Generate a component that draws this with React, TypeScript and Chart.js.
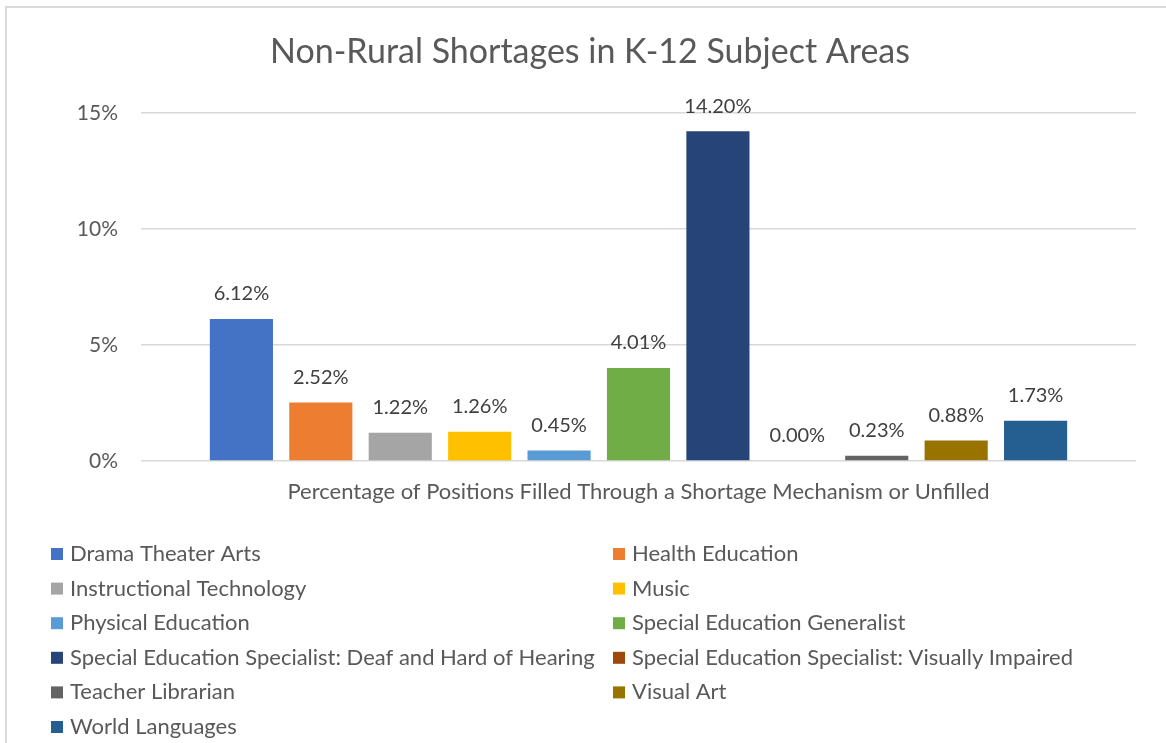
import React, { useEffect, useRef } from "react";
import { Chart, registerables } from "chart.js";

Chart.register(...registerables);

const titleText = "Non-Rural Shortages in K-12 Subject Areas";
const categories = ["Percentage of Positions Filled Through a Shortage Mechanism or Unfilled"];
const seriesNames = [
  "Drama Theater Arts",
  "Health Education",
  "Instructional Technology",
  "Music",
  "Physical Education",
  "Special Education Generalist",
  "Special Education Specialist: Deaf and Hard of Hearing",
  "Special Education Specialist: Visually Impaired",
  "Teacher Librarian",
  "Visual Art",
  "World Languages",
];
const seriesValues = [6.12, 2.52, 1.22, 1.26, 0.45, 4.01, 14.2, 0.0, 0.23, 0.88, 1.73];
const seriesColors = [
  "#4472C4",
  "#ED7D31",
  "#A5A5A5",
  "#FFC000",
  "#5B9BD5",
  "#70AD47",
  "#264478",
  "#9E480E",
  "#636363",
  "#997300",
  "#255E91",
];
const yMin = 0;
const yMax = 15;
const yStep = 5;

const FONT = "Lato, 'Open Sans', sans-serif";
const TEXT = "#595959";

const borderPlugin = {
  id: "frameBorder",
  beforeDraw(chart: any) {
    const ctx = chart.ctx;
    ctx.save();
    ctx.fillStyle = "#ffffff";
    ctx.fillRect(0, 0, chart.width, chart.height);
    ctx.strokeStyle = "#d9d9d9";
    ctx.lineWidth = 2;
    ctx.strokeRect(6, 7, chart.width + 20, chart.height + 20);
    ctx.restore();
  },
};

const dataLabelPlugin = {
  id: "barValueLabels",
  afterDatasetsDraw(chart: any) {
    const ctx = chart.ctx;
    ctx.save();
    ctx.font = `20px ${FONT}`;
    ctx.fillStyle = "#404040";
    ctx.textAlign = "center";
    ctx.textBaseline = "middle";
    chart.data.datasets.forEach((ds: any, i: number) => {
      const meta = chart.getDatasetMeta(i);
      meta.data.forEach((el: any, j: number) => {
        const v = ds.data[j] as number;
        ctx.fillText(v.toFixed(2) + "%", el.x, el.y - 25);
      });
    });
    ctx.restore();
  },
};

const legendPlugin = {
  id: "twoColumnLegend",
  afterDraw(chart: any) {
    const ctx = chart.ctx;
    ctx.save();
    ctx.font = `22px ${FONT}`;
    ctx.textBaseline = "middle";
    ctx.textAlign = "left";
    const colBox = [51, 613];
    const colText = [70, 632];
    const top = 554;
    const rowH = 34.6;
    const box = 12;
    chart.data.datasets.forEach((ds: any, i: number) => {
      const col = i % 2;
      const row = Math.floor(i / 2);
      const cy = top + row * rowH;
      ctx.fillStyle = ds.backgroundColor;
      ctx.fillRect(colBox[col], cy - box / 2, box, box);
      ctx.fillStyle = TEXT;
      ctx.fillText(ds.label, colText[col], cy);
    });
    ctx.restore();
  },
};

export default function App() {
  const ref = useRef<HTMLCanvasElement | null>(null);

  useEffect(() => {
    if (!ref.current) return;
    const chart = new Chart(ref.current, {
      type: "bar",
      data: {
        labels: categories,
        datasets: seriesNames.map((name, i) => ({
          label: name,
          data: [seriesValues[i]],
          backgroundColor: seriesColors[i],
          borderWidth: 0,
          categoryPercentage: 0.878,
          barPercentage: 0.795,
        })),
      },
      options: {
        responsive: false,
        animation: false,
        layout: { padding: { left: 44, right: 30, top: 0, bottom: 237 } },
        plugins: {
          legend: { display: false },
          tooltip: { enabled: false },
          title: {
            display: true,
            text: titleText,
            color: TEXT,
            font: { family: FONT, size: 34, weight: "normal" },
            padding: { top: 32, bottom: 40 },
          },
        },
        scales: {
          x: {
            grid: { display: false, drawTicks: false },
            border: { display: false },
            ticks: {
              color: TEXT,
              font: { family: FONT, size: 22 },
              padding: 18,
              maxRotation: 0,
            },
            afterFit(scale: any) {
              scale.height = 45;
            },
          },
          y: {
            min: yMin,
            max: yMax,
            grid: { color: "#d9d9d9", lineWidth: 1.5, drawTicks: false },
            border: { display: false },
            ticks: {
              stepSize: yStep,
              color: TEXT,
              font: { family: FONT, size: 21 },
              padding: 23,
              callback: (v: any) => `${v}%`,
            },
            afterFit(scale: any) {
              scale.width = 97;
            },
          },
        },
      },
      plugins: [borderPlugin, dataLabelPlugin, legendPlugin],
    });
    return () => chart.destroy();
  }, []);

  return (
    <div style={{ position: "absolute", left: 0, top: 0, width: 1166, height: 743, overflow: "hidden" }}>
      <canvas ref={ref} width={1166} height={743} style={{ display: "block" }} />
    </div>
  );
}
